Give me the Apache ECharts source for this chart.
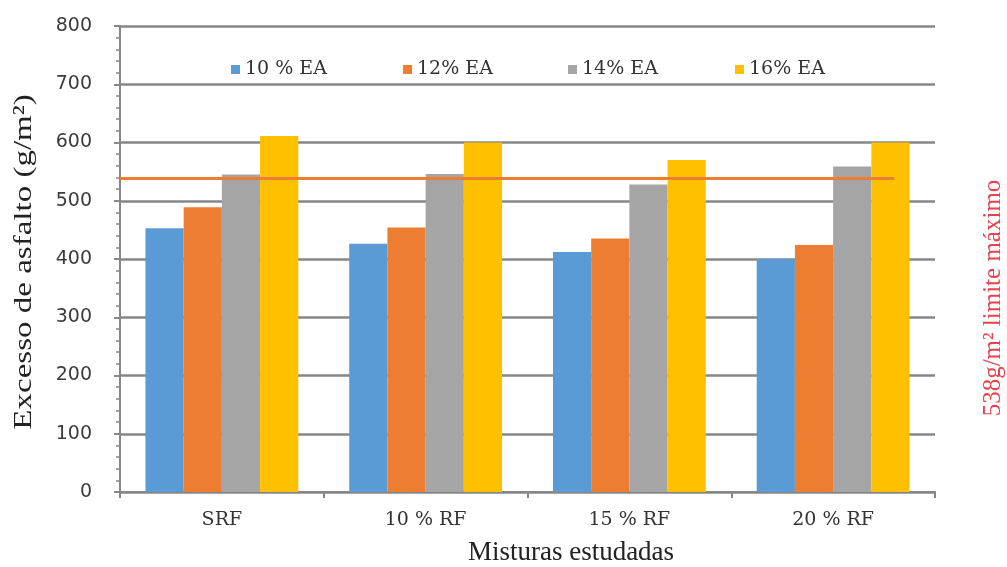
<!DOCTYPE html>
<html>
<head>
<meta charset="utf-8">
<script src="https://cdn.jsdelivr.net/npm/echarts@6/dist/echarts.min.js"></script>
<style>
  html, body { margin: 0; padding: 0; background: #ffffff; }
  #chart { width: 1007px; height: 567px; }
</style>
</head>
<body>
<div id="chart"></div>
<script>
// Mixtures studied and asphalt excess (g/m²) per emulsion content
const categories = ['SRF', '10 % RF', '15 % RF', '20 % RF'];
const seriesNames = ['10 % EA', '12% EA', '14% EA', '16% EA'];
const ea10 = [453, 426, 412, 400];
const ea12 = [489, 454, 435, 424];
const ea14 = [545, 546, 528, 559];
const ea16 = [611, 600, 570, 600];
const yTicks = [0, 100, 200, 300, 400, 500, 600, 700, 800];

// Maximum limit line (g/m²) and the span it covers along the category band
const limitValue = 538;
const limitSpan = [0, 3.8];

// Titles
const yTitle = 'Excesso de asfalto (g/m²)';
const xTitle = 'Misturas estudadas';
const limitTitle = '538g/m² limite máximo';

const colors = ['#5b9bd5', '#ed7d31', '#a5a5a5', '#ffc000'];
const gridColor = '#878787';
const serif = '"DejaVu Serif", "Liberation Serif", serif';

const chart = echarts.init(document.getElementById('chart'), null, { renderer: 'canvas' });

const legendLefts = [226, 398, 563, 730];
const legends = seriesNames.map((name, i) => ({
  data: [name],
  left: legendLefts[i],
  top: 55,
  icon: 'rect',
  itemWidth: 9,
  itemHeight: 9,
  textStyle: { fontFamily: serif, fontSize: 19, color: '#333333' },
  selectedMode: false
}));

const values = [ea10, ea12, ea14, ea16];

const option = {
  backgroundColor: '#ffffff',
  animation: false,
  color: colors,
  legend: legends,
  grid: { left: 120, right: 72, top: 26, bottom: 75, containLabel: false },
  xAxis: [
    {
      type: 'category',
      data: categories,
      boundaryGap: true,
      axisLine: { show: true, lineStyle: { color: gridColor, width: 2 } },
      axisTick: { show: true, length: 6, interval: 0, alignWithLabel: false, lineStyle: { color: gridColor, width: 2 } },
      axisLabel: { margin: 19, fontFamily: serif, fontSize: 19, color: '#333333' }
    },
    {
      type: 'value',
      min: 0,
      max: 4,
      show: false
    }
  ],
  yAxis: {
    type: 'value',
    min: yTicks[0],
    max: yTicks[yTicks.length - 1],
    interval: 100,
    axisLine: { show: true, lineStyle: { color: gridColor, width: 2 } },
    axisTick: { show: true, length: 6, lineStyle: { color: gridColor, width: 2 } },
    minorTick: { show: true, splitNumber: 5, length: 4, lineStyle: { color: gridColor, width: 1.5 } },
    splitLine: { show: true, lineStyle: { color: gridColor, width: 2.5 } },
    axisLabel: {
      margin: 28,
      fontFamily: '"DejaVu Sans", sans-serif',
      fontSize: 19,
      color: '#3c3c3c'
    }
  },
  series: seriesNames.map((name, i) => ({
    name: name,
    type: 'bar',
    data: values[i],
    barGap: '0%',
    barCategoryGap: '25%',
    itemStyle: { color: colors[i] },
    z: 2
  })).concat([{
    name: 'limite',
    type: 'line',
    xAxisIndex: 1,
    yAxisIndex: 0,
    data: limitSpan.map(x => [x, limitValue]),
    symbol: 'none',
    lineStyle: { color: '#ed7d31', width: 3 },
    z: 5,
    silent: true
  }]),
  graphic: [
    {
      type: 'text',
      x: 24,
      y: 262,
      rotation: Math.PI / 2,
      scaleX: 1.27,
      style: {
        text: yTitle,
        fill: '#222222',
        font: '26px "Liberation Serif", serif',
        align: 'center',
        verticalAlign: 'middle'
      }
    },
    {
      type: 'text',
      x: 571,
      y: 553,
      style: {
        text: xTitle,
        fill: '#222222',
        font: '27px "Liberation Serif", serif',
        align: 'center',
        verticalAlign: 'middle'
      }
    },
    {
      type: 'text',
      x: 993,
      y: 298,
      rotation: Math.PI / 2,
      style: {
        text: limitTitle,
        fill: '#e8424f',
        font: '25px "Liberation Serif", serif',
        align: 'center',
        verticalAlign: 'middle'
      }
    }
  ]
};

chart.setOption(option);
</script>
</body>
</html>
